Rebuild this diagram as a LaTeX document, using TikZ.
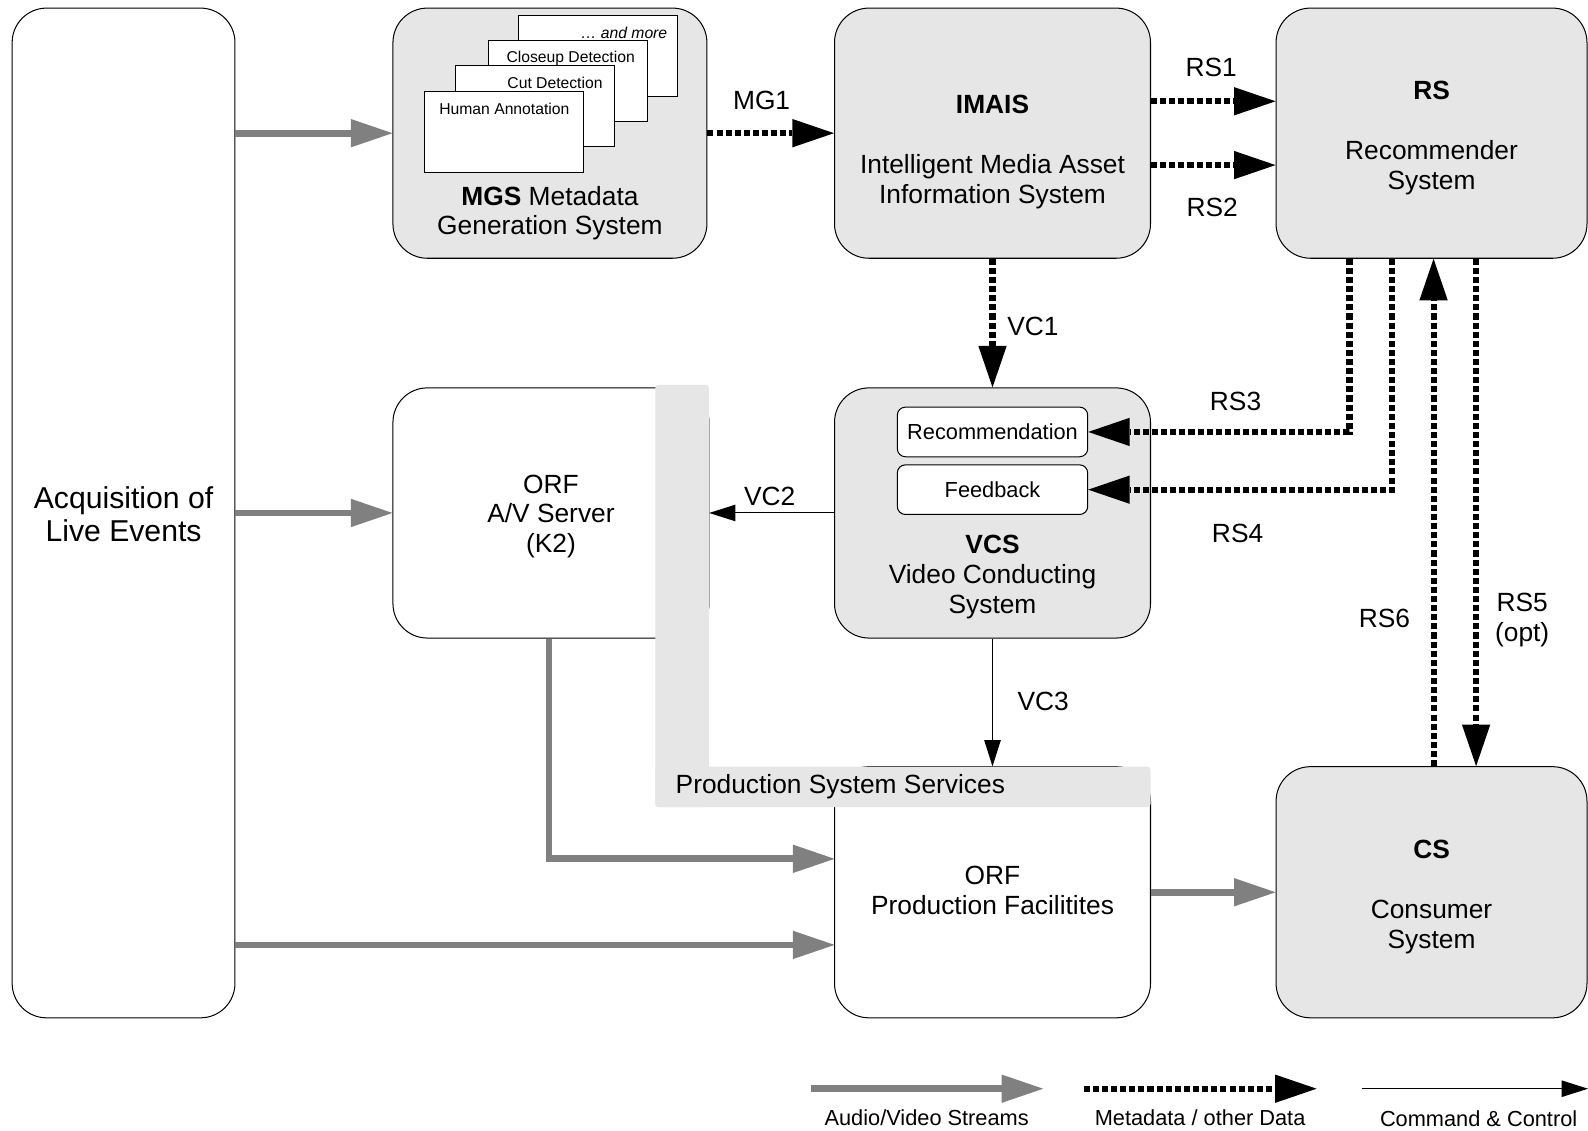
\documentclass[tikz,border=0pt]{standalone}
\usepackage{fontspec}
\setmainfont{Liberation Sans}
\usetikzlibrary{arrows.meta}
\definecolor{boxgray}{HTML}{E6E6E6}
\definecolor{avgray}{HTML}{808080}
\newcommand{\mainfs}{\fontsize{26}{29.5}\selectfont}
\newcommand{\bigfs}{\fontsize{29.8}{33}\selectfont}
\newcommand{\legfs}{\fontsize{21.5}{25}\selectfont}
\newcommand{\stackfs}{\fontsize{15.5}{18}\selectfont}

\begin{document}
\begin{tikzpicture}[x=1pt,y=-1pt,
  sysbox/.style={draw,line width=1pt,rounded corners=34pt,inner sep=0pt,
    minimum width=312pt,minimum height=247pt},
  stackbox/.style={draw,fill=white,line width=1pt,inner sep=0pt,
    minimum width=157pt,minimum height=80pt},
  subbox/.style={draw,fill=white,line width=1pt,rounded corners=8pt,inner sep=0pt,
    minimum width=188pt,minimum height=49pt,font=\legfs},
  strip/.style={fill=boxgray,rounded corners=3pt,inner sep=0pt},
  txt/.style={font=\mainfs,align=center,inner sep=0pt},
  lbl/.style={font=\mainfs,align=center,inner sep=0pt},
  stacktxt/.style={font=\stackfs,inner sep=0pt},
  legtxt/.style={font=\legfs,inner sep=0pt},
  avarrow/.style={draw=avgray,line width=6.6pt,
    -{Triangle[length=41pt,width=28pt,line width=0pt,color=avgray]}},
  data/.style={line width=6pt,dash pattern=on 6pt off 3pt,
    -{Triangle[length=41pt,width=28pt,line width=0pt]}},
  cmd/.style={line width=1pt,-{Triangle[length=26pt,width=16.5pt,line width=0pt]}}]
% reference frame: one unit per pixel, y downwards
\useasboundingbox (0,0) rectangle (1568,1116);

\node[sysbox,fill=white,minimum width=220pt,minimum height=997pt] (acq) at (122,506.5) {};
\node[sysbox,fill=boxgray,minimum width=310pt] (mgs) at (543,131.5) {};
\node[sysbox,fill=boxgray] (imais) at (980,131.5) {};
\node[sysbox,fill=boxgray,minimum width=307pt] (rs) at (1413.5,131.5) {};
\node[sysbox,fill=white] (avs) at (544,506.5) {};
\node[sysbox,fill=boxgray] (vcs) at (980,506.5) {};
\node[sysbox,fill=white,minimum height=248pt] (pf) at (980,881) {};
\node[sysbox,fill=boxgray,minimum width=307pt,minimum height=248pt] (cs) at (1413.5,881) {};

\node[txt,font=\bigfs] (acqtxt) at (122,507.5) {Acquisition of\\Live Events};
\node[txt] (rstxt) at (1413.5,136) {\textbf{RS}\\[29.5pt]Recommender\\System};
\node[txt] (avstxt) at (544,510) {ORF\\A/V Server\\(K2)};
\node[txt] (pftxt) at (980,879.5) {ORF\\Production Facilitites};
\node[txt] (cstxt) at (1413.5,885.5) {\textbf{CS}\\[29.5pt]Consumer\\System};

% MGS content
\node[stackbox] (more) at (590.5,55.5) {};
\node[stackbox] (closeup) at (560.5,80) {};
\node[stackbox] (cut) at (528.5,105) {};
\node[stackbox] (human) at (497.5,130) {};
\node[stacktxt,anchor=east] (moretxt) at (659,32) {\textit{\dots\ and more}};
\node[stacktxt] (closeuptxt) at (563.5,58) {Closeup Detection};
\node[stacktxt] (cuttxt) at (548,82) {Cut Detection};
\node[stacktxt] (humantxt) at (498,108) {Human Annotation};
\node[txt] (mgstxt) at (543,210.5) {\textbf{MGS} Metadata\\Generation System};

\node[txt] (imaistxt) at (980,150)
  {\textbf{IMAIS}\\[29.5pt]Intelligent Media Asset\\Information System};

% VCS content
\node[subbox] (rec) at (980,426.5) {Recommendation};
\node[subbox] (fb) at (980,483.5) {Feedback};
\node[txt] (vcstxt) at (980,570) {\textbf{VCS}\\Video Conducting\\System};

% production system services
\node[strip,minimum width=53pt,minimum height=417pt] (pssv) at (673.5,588.5) {};
\node[strip,minimum width=489pt,minimum height=40pt] (pssh) at (891.5,777) {};
\node[txt,anchor=west] (psstxt) at (667,777) {Production System Services};

% audio/video
\coordinate (pfin1) at (824,848);
\coordinate (pfin2) at (824,933);
\draw[avarrow] (acq.east |- mgs.west) -- (mgs.west);
\draw[avarrow] (acq.east |- avs.west) -- (avs.west);
\draw[avarrow] ([xshift=-2pt]avs.south) |- (pfin1);
\draw[avarrow] (acq.east |- pfin2) -- (pfin2);
\draw[avarrow] (pf.east) -- (cs.west);

% metadata
\draw[data] (mgs.east) -- (imais.west);
\draw[data] ([yshift=31.5pt]imais.east) -- ([yshift=31.5pt]rs.west);
\draw[data] ([yshift=-31.5pt]imais.east) -- ([yshift=-31.5pt]rs.west);
\draw[data] (imais.south) -- (vcs.north);
\draw[data] ([xshift=-81pt]rs.south) |- (rec.east);
\draw[data] ([xshift=-39pt]rs.south) |- (fb.east);
\draw[data] ([xshift=2pt]cs.north) -- ([xshift=2pt]rs.south);
\draw[data] ([xshift=44pt]rs.south) -- ([xshift=44pt]cs.north);

% command & control
\draw[cmd] (vcs.west) -- (vcs.west -| pssv.east);
\draw[cmd] (vcs.south) -- (vcs.south |- pssh.north);

\node[lbl] (lmg1) at (752,99) {MG1};
\node[lbl] (lrs1) at (1196,67) {RS1};
\node[lbl] (lrs2) at (1197,205) {RS2};
\node[lbl] (lvc1) at (1020,322) {VC1};
\node[lbl] (lvc2) at (760,490) {VC2};
\node[lbl] (lvc3) at (1030,693) {VC3};
\node[lbl] (lrs3) at (1220,396) {RS3};
\node[lbl] (lrs4) at (1222,527) {RS4};
\node[lbl] (lrs6) at (1367,611) {RS6};
\node[lbl] (lrs5) at (1503,612.5) {RS5\\(opt)};

% legend
\coordinate (lgav0) at (801,1075);
\coordinate (lgav1) at (1030,1075);
\coordinate (lgdt0) at (1070,1075);
\coordinate (lgdt1) at (1300,1075);
\coordinate (lgcc0) at (1345,1075);
\coordinate (lgcc1) at (1568,1075);
\draw[avarrow] (lgav0) -- (lgav1);
\draw[data] (lgdt0) -- (lgdt1);
\draw[cmd] (lgcc0) -- (lgcc1);
\node[legtxt] (lgavtxt) at (915,1104) {Audio/Video Streams};
\node[legtxt] (lgdttxt) at (1185,1104) {Metadata / other Data};
\node[legtxt] (lgcctxt) at (1460,1105) {Command \& Control};
\end{tikzpicture}
\end{document}
